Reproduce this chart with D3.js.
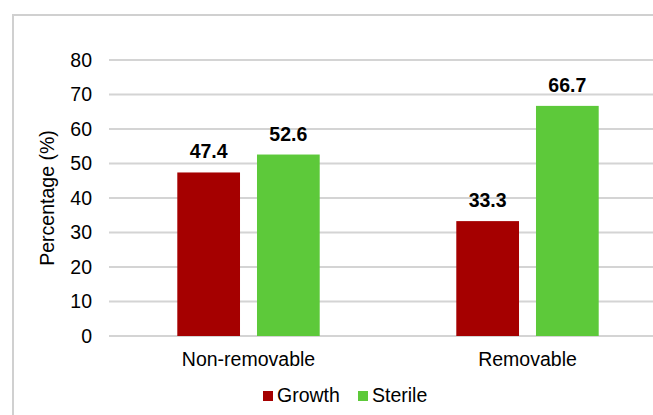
<!DOCTYPE html>
<html>
<head>
<meta charset="utf-8">
<script src="https://cdn.jsdelivr.net/npm/d3@7"></script>
<style>
  body { margin: 0; background: #fff; }
  text { font-family: "Liberation Sans", Arial, sans-serif; fill: #000; }
</style>
</head>
<body>
<svg id="chart" width="653" height="415"></svg>
<script>
var categories = ["Non-removable", "Removable"];
var seriesNames = ["Growth", "Sterile"];
var growth = [47.4, 33.3];
var sterile = [52.6, 66.7];
var yTicks = [0, 10, 20, 30, 40, 50, 60, 70, 80];

var colors = { Growth: "#a50000", Sterile: "#5dc93a" };

var svg = d3.select("#chart");

// outer chart frame (runs off the right and bottom edge of the picture)
svg.append("rect")
    .attr("x", 13).attr("y", 15)
    .attr("width", 700).attr("height", 430)
    .attr("fill", "#fff")
    .attr("stroke", "#d0d0d0")
    .attr("stroke-width", 2);

var plotLeft = 109, plotRight = 667;

var x0 = d3.scaleBand()
    .domain(categories)
    .range([plotLeft, plotRight])
    .padding(0);

var x1 = d3.scaleBand()
    .domain(seriesNames)
    .range([0, x0.bandwidth()])
    .paddingInner(0.213)
    .paddingOuter(0.857);

var y = d3.scaleLinear().domain([0, 80]).range([336, 60]);

var data = categories.map(function (c, i) {
    return { cat: c, values: [
        { key: "Growth", value: growth[i] },
        { key: "Sterile", value: sterile[i] }
    ]};
});

// gridlines
svg.append("g")
    .selectAll("line")
    .data(yTicks)
    .enter()
    .append("line")
    .attr("x1", plotLeft)
    .attr("x2", plotRight)
    .attr("y1", function (d) { return y(d); })
    .attr("y2", function (d) { return y(d); })
    .attr("stroke", "#d4d4d4")
    .attr("stroke-width", 2);

// y tick labels
svg.append("g")
    .selectAll("text")
    .data(yTicks)
    .enter()
    .append("text")
    .attr("x", 92)
    .attr("y", function (d) { return y(d); })
    .attr("dy", "0.35em")
    .attr("text-anchor", "end")
    .attr("font-size", 19.5)
    .text(function (d) { return d; });

// y axis title
svg.append("text")
    .attr("transform", "translate(54," + ((y(0) + y(80)) / 2) + ") rotate(-90)")
    .attr("text-anchor", "middle")
    .attr("font-size", 19.5)
    .text("Percentage (%)");

var groups = svg.append("g")
    .selectAll("g")
    .data(data)
    .enter()
    .append("g")
    .attr("transform", function (d) { return "translate(" + x0(d.cat) + ",0)"; });

groups.selectAll("rect")
    .data(function (d) { return d.values; })
    .enter()
    .append("rect")
    .attr("x", function (d) { return x1(d.key); })
    .attr("y", function (d) { return y(d.value); })
    .attr("width", x1.bandwidth())
    .attr("height", function (d) { return y(0) - y(d.value); })
    .attr("fill", function (d) { return colors[d.key]; });

groups.selectAll("text.lbl")
    .data(function (d) { return d.values; })
    .enter()
    .append("text")
    .attr("class", "lbl")
    .attr("x", function (d) { return x1(d.key) + x1.bandwidth() / 2; })
    .attr("y", function (d) { return y(d.value) - 14; })
    .attr("text-anchor", "middle")
    .attr("font-size", 19.5)
    .attr("font-weight", "bold")
    .text(function (d) { return d.value.toFixed(1); });

// category labels
svg.append("g")
    .selectAll("text")
    .data(categories)
    .enter()
    .append("text")
    .attr("x", function (d) { return x0(d) + x0.bandwidth() / 2; })
    .attr("y", 366)
    .attr("text-anchor", "middle")
    .attr("font-size", 19.5)
    .text(function (d) { return d; });

// legend
var legendX = [263, 358];
var legend = svg.append("g")
    .selectAll("g")
    .data(seriesNames)
    .enter()
    .append("g")
    .attr("transform", function (d, i) { return "translate(" + legendX[i] + ",391)"; });

legend.append("rect")
    .attr("width", 10)
    .attr("height", 10)
    .attr("fill", function (d) { return colors[d]; });

legend.append("text")
    .attr("x", 14)
    .attr("y", 11)
    .attr("font-size", 19.5)
    .text(function (d) { return d; });
</script>
</body>
</html>
